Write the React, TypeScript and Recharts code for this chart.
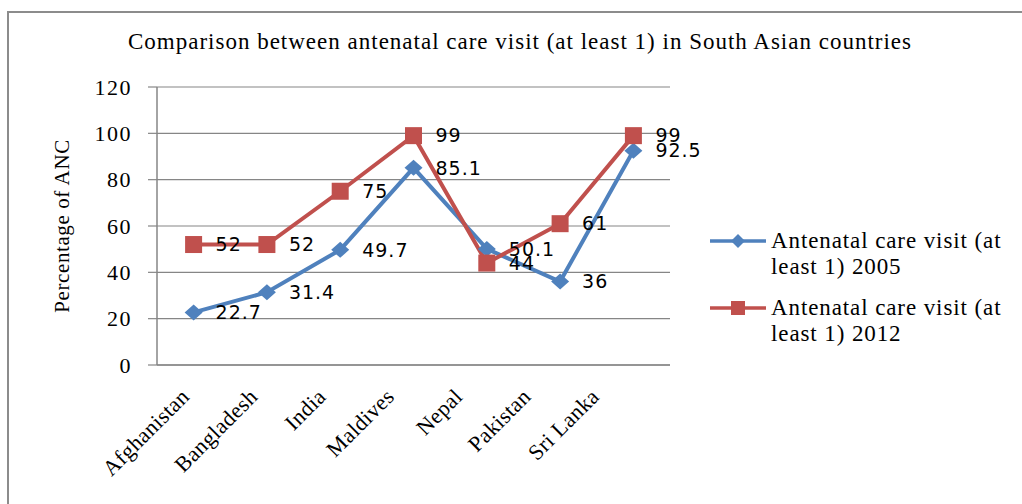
import React from 'react';
import { LineChart, Line, XAxis, YAxis, CartesianGrid, LabelList, Legend } from 'recharts';

const countries = ['Afghanistan', 'Bangladesh', 'India', 'Maldives', 'Nepal', 'Pakistan', 'Sri Lanka'];
const anc2005 = [22.7, 31.4, 49.7, 85.1, 50.1, 36, 92.5];
const anc2012 = [52, 52, 75, 99, 44, 61, 99];
const yTicks = [0, 20, 40, 60, 80, 100, 120];
const seriesNames = ['Antenatal care visit (at least 1) 2005', 'Antenatal care visit (at least 1) 2012'];
const titleText = 'Comparison between antenatal care visit (at least 1) in South Asian countries';
const yLabel = 'Percentage of ANC';

const data = countries.map((c, i) => ({ country: c, v2005: anc2005[i], v2012: anc2012[i] }));

const BLUE = '#4F81BD';
const RED = '#C0504D';
const GRID = '#868686';
const SERIF = '"Liberation Serif", "Times New Roman", serif';
const SANS = '"DejaVu Sans", Verdana, sans-serif';

const Diamond = (props: any) => {
  const { cx, cy } = props;
  if (cx == null || cy == null) return null;
  const w = 9, h = 8;
  return <path d={`M${cx},${cy - h}L${cx + w},${cy}L${cx},${cy + h}L${cx - w},${cy}Z`} fill={BLUE} />;
};

const Square = (props: any) => {
  const { cx, cy } = props;
  if (cx == null || cy == null) return null;
  const s = 8.5;
  return <rect x={cx - s} y={cy - s} width={2 * s} height={2 * s} fill={RED} />;
};

const XTick = (props: any) => {
  const { x, y, payload, index } = props;
  const shift = -3 - 5 * (index || 0);
  return (
    <g transform={`translate(${x + shift},${y + 25})`}>
      <text x={0} y={0} textAnchor="end" transform="rotate(-45)" fontFamily={SERIF} fontSize={22} letterSpacing={0.4} fill="#000">
        {payload.value}
      </text>
    </g>
  );
};

const LegendContent = () => {
  const items = [
    { name: seriesNames[0], color: BLUE, shape: 'diamond' },
    { name: seriesNames[1], color: RED, shape: 'square' },
  ];
  return (
    <div>
      {items.map((it, i) => {
        const words = it.name.split(' ');
        const l1 = words.slice(0, 4).join(' ');
        const l2 = words.slice(4).join(' ');
        return (
          <div key={i} style={{ display: 'flex', alignItems: 'flex-start', marginBottom: i === 0 ? 15 : 0 }}>
            <svg width={60} height={26} style={{ flex: 'none' }}>
              <line x1={2} y1={13} x2={58} y2={13} stroke={it.color} strokeWidth={3.5} />
              {it.shape === 'diamond' ? (
                <path d="M30,6L37,13L30,20L23,13Z" fill={it.color} />
              ) : (
                <rect x={23} y={6} width={14} height={14} fill={it.color} />
              )}
            </svg>
            <div style={{ fontFamily: SERIF, fontSize: 23, lineHeight: '26px', letterSpacing: 0.9, color: '#000', marginLeft: 3, whiteSpace: 'nowrap' }}>
              <div>{l1}</div>
              <div>{l2}</div>
            </div>
          </div>
        );
      })}
    </div>
  );
};

export default function App() {
  return (
    <div style={{ position: 'absolute', left: 0, top: 0, width: 1022, height: 504, background: '#fff', overflow: 'hidden' }}>
      <div style={{ position: 'absolute', left: 7, top: 11, width: 1100, height: 600, borderLeft: '2px solid #8c8c8c', borderTop: '2px solid #8c8c8c' }} />
      <div style={{ position: 'absolute', left: 0, top: 29, width: 1040, textAlign: 'center', fontFamily: SERIF, fontSize: 23, letterSpacing: 1, color: '#000', whiteSpace: 'nowrap' }}>
        {titleText}
      </div>
      <div style={{ position: 'absolute', left: 0, top: 0 }}>
        <LineChart width={1022} height={504} data={data} margin={{ top: 87, right: 352, left: 97, bottom: 59 }}>
          <CartesianGrid horizontal vertical={false} stroke={GRID} strokeWidth={1.2} />
          <XAxis
            dataKey="country"
            height={80}
            padding={{ left: 36.6, right: 36.6 }}
            axisLine={{ stroke: GRID, strokeWidth: 1.5 }}
            tickLine={false}
            tick={<XTick />}
            interval={0}
          />
          <YAxis
            width={60}
            domain={[0, 120]}
            ticks={yTicks}
            interval={0}
            axisLine={{ stroke: GRID, strokeWidth: 1.5 }}
            tickLine={{ stroke: GRID, strokeWidth: 1.2 }}
            tickSize={9}
            tickMargin={16}
            tick={{ fontFamily: SERIF, fontSize: 22, letterSpacing: 1.5, fill: '#000' }}
            label={{ value: yLabel, angle: -90, position: 'center', dx: -65, style: { fontFamily: SERIF, fontSize: 21, letterSpacing: 0.6, fill: '#000', textAnchor: 'middle' } }}
          />
          <Legend
            layout="vertical"
            align="center"
            verticalAlign="middle"
            content={<LegendContent />}
            wrapperStyle={{ position: 'absolute', left: 708, top: 228, width: 314, height: 130 }}
          />
          <Line
            type="linear"
            dataKey="v2005"
            name={seriesNames[0]}
            stroke={BLUE}
            strokeWidth={4}
            dot={<Diamond />}
            activeDot={false}
            isAnimationActive={false}
          >
            <LabelList dataKey="v2005" position="right" offset={22} fill="#000" fontFamily={SANS} fontSize={19} letterSpacing={1} />
          </Line>
          <Line
            type="linear"
            dataKey="v2012"
            name={seriesNames[1]}
            stroke={RED}
            strokeWidth={4}
            dot={<Square />}
            activeDot={false}
            isAnimationActive={false}
          >
            <LabelList dataKey="v2012" position="right" offset={22} fill="#000" fontFamily={SANS} fontSize={19} letterSpacing={1} />
          </Line>
        </LineChart>
      </div>
    </div>
  );
}
